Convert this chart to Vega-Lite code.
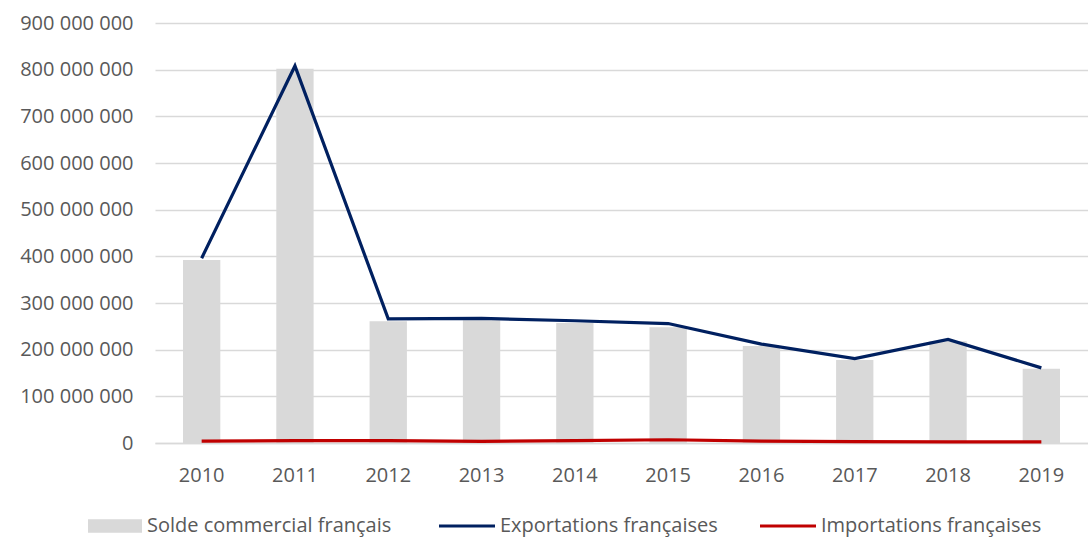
{
  "$schema": "https://vega.github.io/schema/vega-lite/v6.json",
  "autosize": {"type": "none"},
  "width": 933,
  "height": 420,
  "padding": {"left": 155, "top": 23, "right": 0, "bottom": 94},
  "background": "white",
  "config": {
    "view": {"stroke": null},
    "font": "Open Sans",
    "locale": {"number": {"decimal": ",", "thousands": " ", "grouping": [3], "currency": ["", " €"]}}
  },
  "datasets": {
    "solde": [
      {"year": "2010", "value": 392000000},
      {"year": "2011", "value": 802000000},
      {"year": "2012", "value": 261000000},
      {"year": "2013", "value": 263000000},
      {"year": "2014", "value": 257000000},
      {"year": "2015", "value": 248000000},
      {"year": "2016", "value": 208000000},
      {"year": "2017", "value": 178000000},
      {"year": "2018", "value": 218000000},
      {"year": "2019", "value": 159000000}
    ],
    "flows": [
      {"year": "2010", "series": "Exportations françaises", "value": 396000000},
      {"year": "2011", "series": "Exportations françaises", "value": 808000000},
      {"year": "2012", "series": "Exportations françaises", "value": 266000000},
      {"year": "2013", "series": "Exportations françaises", "value": 267000000},
      {"year": "2014", "series": "Exportations françaises", "value": 262000000},
      {"year": "2015", "series": "Exportations françaises", "value": 256000000},
      {"year": "2016", "series": "Exportations françaises", "value": 212000000},
      {"year": "2017", "series": "Exportations françaises", "value": 181000000},
      {"year": "2018", "series": "Exportations françaises", "value": 222000000},
      {"year": "2019", "series": "Exportations françaises", "value": 161000000},
      {"year": "2010", "series": "Importations françaises", "value": 4000000},
      {"year": "2011", "series": "Importations françaises", "value": 5000000},
      {"year": "2012", "series": "Importations françaises", "value": 5000000},
      {"year": "2013", "series": "Importations françaises", "value": 3500000},
      {"year": "2014", "series": "Importations françaises", "value": 5000000},
      {"year": "2015", "series": "Importations françaises", "value": 7000000},
      {"year": "2016", "series": "Importations françaises", "value": 4000000},
      {"year": "2017", "series": "Importations françaises", "value": 3000000},
      {"year": "2018", "series": "Importations françaises", "value": 2500000},
      {"year": "2019", "series": "Importations françaises", "value": 2500000}
    ]
  },
  "encoding": {
    "x": {
      "field": "year", "type": "ordinal",
      "scale": {"paddingInner": 0.6, "paddingOuter": 0.3},
      "axis": {
        "title": null, "labelAngle": 0, "labelFont": "Open Sans", "labelFontSize": 20,
        "labelColor": "#595959", "labelPadding": 22, "ticks": false,
        "domain": true, "domainColor": "#D9D9D9", "domainWidth": 1.3, "grid": false
      }
    },
    "y": {
      "field": "value", "type": "quantitative",
      "scale": {"domain": [0, 900000000], "nice": false},
      "axis": {
        "title": null, "values": [0, 100000000, 200000000, 300000000, 400000000, 500000000, 600000000, 700000000, 800000000, 900000000],
        "format": ",d", "labelFont": "Open Sans", "labelFontSize": 20, "labelColor": "#595959",
        "labelPadding": 22, "ticks": false, "domain": false,
        "grid": true, "gridColor": "#D9D9D9", "gridWidth": 1.3
      }
    }
  },
  "layer": [
    {
      "data": {"name": "solde"},
      "mark": {"type": "bar", "color": "#D9D9D9"},
      "encoding": {
        "fill": {
          "datum": "Solde commercial français",
          "scale": {"range": ["#D9D9D9"]},
          "legend": {
            "title": null, "orient": "none", "legendX": -67, "legendY": 476,
            "symbolType": "M-1,-0.25H1V0.25H-1Z", "symbolSize": 2916, "symbolStrokeWidth": 0,
            "labelFont": "Open Sans", "labelFontSize": 20, "labelColor": "#595959", "labelOffset": 5,
            "labelLimit": 400
          }
        }
      }
    },
    {
      "data": {"name": "flows"},
      "mark": {"type": "line", "strokeWidth": 3.2},
      "encoding": {
        "stroke": {
          "field": "series", "type": "nominal",
          "scale": {"domain": ["Exportations françaises", "Importations françaises"], "range": ["#002060", "#C00000"]},
          "legend": {
            "title": null, "orient": "none", "legendX": 282, "legendY": 473,
            "direction": "horizontal", "columns": 2, "columnPadding": 35,
            "symbolType": "stroke", "symbolSize": 3136, "symbolStrokeWidth": 3.2,
            "labelFont": "Open Sans", "labelFontSize": 20, "labelColor": "#595959", "labelOffset": 3,
            "labelLimit": 400
          }
        }
      }
    }
  ]
}
